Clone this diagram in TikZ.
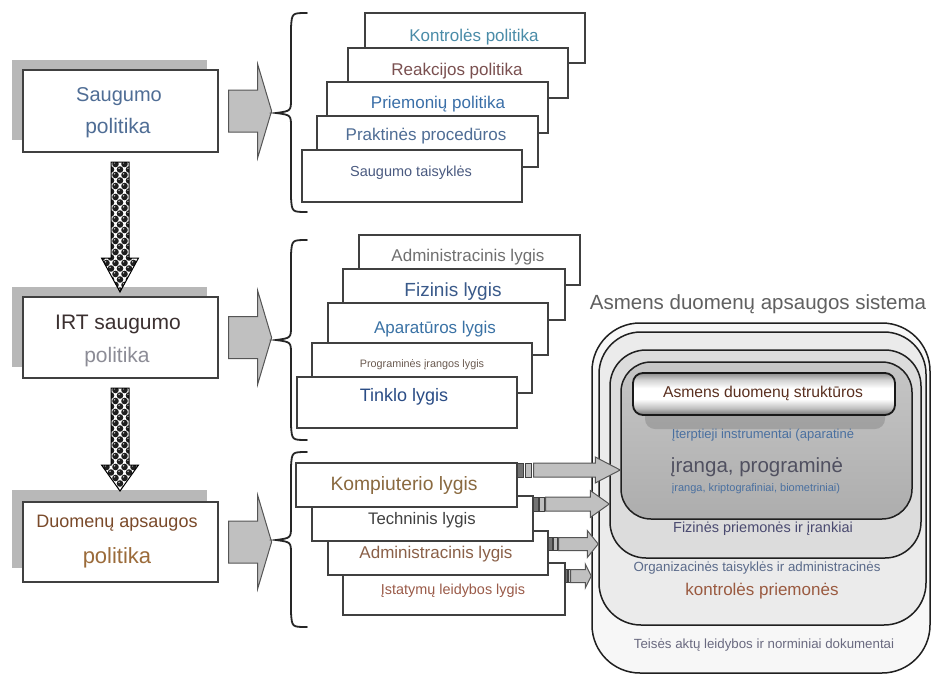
\documentclass[tikz,border=0pt]{standalone}
\usepackage{fontspec}
\setmainfont{Liberation Sans}
\usetikzlibrary{calc,fit}

\definecolor{cSteel}{HTML}{4F6D95}
\definecolor{cDark}{HTML}{3B3030}
\definecolor{cGrayT}{HTML}{8C8C96}
\definecolor{cBrown}{HTML}{7A4A2A}
\definecolor{cGold}{HTML}{9B6B3A}
\definecolor{cTeal}{HTML}{4A8CA8}
\definecolor{cMauve}{HTML}{7A5050}
\definecolor{cBlue}{HTML}{3A6FA8}
\definecolor{cSlate}{HTML}{4A5A80}
\definecolor{cGrayA}{HTML}{707070}
\definecolor{cNavy}{HTML}{3A5A8A}
\definecolor{cBlue2}{HTML}{3A72A5}
\definecolor{cProg}{HTML}{6A5A50}
\definecolor{cDeep}{HTML}{2A4C85}
\definecolor{cKomp}{HTML}{8A6A40}
\definecolor{cTech}{HTML}{404040}
\definecolor{cAdm}{HTML}{8A6048}
\definecolor{cIst}{HTML}{9A5A48}
\definecolor{cTitle}{HTML}{606060}
\definecolor{cStruct}{HTML}{5A3020}
\definecolor{cSmallB}{HTML}{4A70A0}
\definecolor{cIranga}{HTML}{505060}
\definecolor{cFiz}{HTML}{4A4A70}
\definecolor{cOrg}{HTML}{5A6A8A}
\definecolor{cKontr}{HTML}{9A5A40}
\definecolor{cTeis}{HTML}{6A6A80}
\definecolor{fillA}{HTML}{F7F7F7}
\definecolor{fillB}{HTML}{EBEBEB}
\definecolor{fillC}{HTML}{DCDCDC}
\definecolor{fillDt}{HTML}{C6C6C6}
\definecolor{fillDb}{HTML}{ADADAD}
\definecolor{arrowfill}{HTML}{C0C0C0}
\definecolor{arrowline}{HTML}{555555}

\pgfdeclareverticalshading{pillshade}{100bp}{%
  color(0bp)=(black!55); color(25bp)=(black!55); color(33bp)=(black!25);
  color(44bp)=(white); color(57bp)=(white); color(67bp)=(black!18);
  color(75bp)=(black!45); color(100bp)=(black!45)}

\newcommand{\fsz}[1]{\fontsize{#1}{#1}\selectfont}

% big gray block arrow pointing to a brace
\newcommand{\bigarrow}[2]{%
  \coordinate (#2) at ($(#1.east)+(10,0)$);
  \draw[draw=arrowline, fill=arrowfill, line width=1pt, line join=miter]
    (#2) ++(0,-21) -- ++(29,0) -- ++(0,-26) -- ++(14,47) -- ++(-14,47)
    -- ++(0,-26) -- ++(-29,0) -- cycle;
}

% curly brace: #1 top y, #2 bottom y, #3 middle y
\newcommand{\curlybrace}[3]{%
  \draw[line width=1.8pt, black!85, line cap=round]
    (307,#1) .. controls (292,#1) .. (291,#1+14) -- (291,#3-14)
    .. controls (291,#3-2) .. (276,#3)
    .. controls (291,#3+2) .. (291,#3+14) -- (291,#2-14)
    .. controls (292,#2) .. (307,#2);
}

% checkered down arrow: #1 top y, #2 tip y, #3 head length
\newcommand{\checkarrow}[3]{%
  \begin{scope}
    \clip (111,#1) -- (111,#2-#3) -- (101.5,#2-#3) -- (120,#2)
      -- (138.5,#2-#3) -- (129,#2-#3) -- (129,#1) -- cycle;
    \fill[white] (95,#1) rectangle (145,#2);
    \pgfmathtruncatemacro\nrows{(#2-#1)/5.5+1}
    \foreach \r in {0,...,\nrows}{%
      \pgfmathsetmacro\yy{#1+2+\r*5.5}
      \pgfmathsetmacro\xo{mod(\r,2)*4.5}
      \foreach \c in {-2,...,2}{%
        \fill[black!88] (115.5+\c*9-\xo,\yy) circle (3.3pt);
        \fill[white!80!black] (114.6+\c*9-\xo,\yy-1.2) circle (0.8pt);
      }
    }
  \end{scope}
  \draw[black, line width=1pt, line join=miter]
    (111,#1) -- (111,#2-#3) -- (101.5,#2-#3) -- (120,#2)
    -- (138.5,#2-#3) -- (129,#2-#3) -- (129,#1) -- cycle;
}

% striped arrow: #1 from node, #2 to node, #3 y, #4 stripe length,
% #5 head length, #6 body half height, #7 head half height
\newcommand{\stripearrow}[7]{%
  \coordinate (sa) at (#1.east |- 0,#3);
  \coordinate (ta) at (#2.west |- 0,#3);
  \draw[draw=black!75, fill=black!55, line width=0.8pt]
    ($(sa)+(0,-#6)$) rectangle ($(sa)+(0.38*#4,#6)$);
  \draw[draw=black!75, fill=black!25, line width=0.8pt]
    ($(sa)+(0.5*#4,-#6)$) rectangle ($(sa)+(0.88*#4,#6)$);
  \draw[draw=arrowline, fill=arrowfill, line width=1pt, line join=miter]
    ($(sa)+(#4,-#6)$) -- ($(ta)+(-#5,-#6)$) -- ($(ta)+(-#5,-#7)$) -- (ta)
    -- ($(ta)+(-#5,#7)$) -- ($(ta)+(-#5,#6)$) -- ($(sa)+(#4,#6)$) -- cycle;
}

\begin{document}
\begin{tikzpicture}[x=1pt,y=-1pt,
  boxline/.style={draw=black!75, line width=1.2pt},
  stackbox/.style={boxline, fill=white, inner sep=0pt},
  shadowbox/.style={fill=black!28, draw=none, inner sep=0pt},
  txt/.style={inner sep=0pt, font=\fsz{#1}},
  layer/.style={draw=black!88, line width=1.5pt, inner sep=0pt}
]
\useasboundingbox[fill=white] (0,0) rectangle (932,678);

% ---------- left main boxes ----------
\node[shadowbox, fit={(12,60) (207,140)}] (s1) {};
\node[stackbox, fit={(23,70) (218,152)}] (b1) {};
\node[txt=20, text=cSteel] (b1a) at (119,97) {Saugumo};
\node[txt=21, text=cSteel] (b1b) at (118,128) {politika};

\node[shadowbox, fit={(12,287) (207,367)}] (s2) {};
\node[stackbox, fit={(23,297) (218,378)}] (b2) {};
\node[txt=21, text=cDark] (b2a) at (118,324) {IRT saugumo};
\node[txt=21, text=cGrayT] (b2b) at (117,357) {politika};

\node[shadowbox, fit={(12,490) (207,568)}] (s3) {};
\node[stackbox, fit={(23,502) (218,582)}] (b3) {};
\node[txt=18, text=cBrown] (b3a) at (117,523) {Duomenų apsaugos};
\node[txt=22, text=cGold] (b3b) at (117,558) {politika};

% checkered arrows
\checkarrow{162}{292}{34}
\checkarrow{388}{491}{26}

% big arrows and braces
\bigarrow{b1}{ar1}
\bigarrow{b2}{ar2}
\bigarrow{b3}{ar3}
\curlybrace{13}{212}{113}
\curlybrace{240}{440}{340}
\curlybrace{452}{627}{540}

% ---------- group 1 ----------
\node[stackbox, fit={(365,13) (585,63)}] (g1a) {};
\node[txt=17, text=cTeal] (g1at) at (474,37) {Kontrolės politika};
\node[stackbox, fit={(348,48) (568,98)}] (g1b) {};
\node[txt=17, text=cMauve] (g1bt) at (457,71) {Reakcijos politika};
\node[stackbox, fit={(327,82) (548,133)}] (g1c) {};
\node[txt=17, text=cBlue] (g1ct) at (438,104) {Priemonių politika};
\node[stackbox, fit={(317,116) (538,167)}] (g1d) {};
\node[txt=17, text=cSteel] (g1dt) at (426,136) {Praktinės procedūros};
\node[stackbox, fit={(302,150) (522,202)}] (g1e) {};
\node[txt=14.5, text=cSlate] (g1et) at (411,173) {Saugumo taisyklės};

% ---------- group 2 ----------
\node[stackbox, fit={(359,235) (580,285)}] (g2a) {};
\node[txt=17, text=cGrayA] (g2at) at (468,257) {Administracinis lygis};
\node[stackbox, fit={(343,269) (565,320)}] (g2b) {};
\node[txt=19, text=cNavy] (g2bt) at (453,292) {Fizinis lygis};
\node[stackbox, fit={(328,303) (548,355)}] (g2c) {};
\node[txt=17, text=cBlue2] (g2ct) at (435,329) {Aparatūros lygis};
\node[stackbox, fit={(312,343) (532,393)}] (g2d) {};
\node[txt=10.8, text=cProg] (g2dt) at (422,365) {Programinės įrangos lygis};
\node[stackbox, fit={(297,377) (517,428)}] (g2e) {};
\node[txt=18, text=cDeep] (g2et) at (404,397) {Tinklo lygis};

% ---------- right nested system ----------
\node[txt=20.5, text=cTitle] (title) at (758,304) {Asmens duomenų apsaugos sistema};
\node[layer, fill=fillA, rounded corners=48pt, fit={(592,323) (930,673)}] (L1) {};
\node[layer, fill=fillB, rounded corners=42pt, fit={(599,332) (926,625)}] (L2) {};
\node[layer, fill=fillC, rounded corners=36pt, fit={(610,350) (921,558)}] (L3) {};
\node[layer, top color=fillDt, bottom color=fillDb, rounded corners=30pt, fit={(621,362) (912,519)}] (L4) {};
\fill[black!45, opacity=0.55, rounded corners=10pt] (645,398) rectangle (885,429);
\node[draw=black!90, line width=1.8pt, rounded corners=10pt, inner sep=0pt,
      shading=pillshade, fit={(633,373) (895,415)}] (pill) {};
\node[txt=15.7, text=cStruct] (pillt) at (763,393) {Asmens duomenų struktūros};
\node[txt=13, text=cSmallB] (l4a) at (763,435) {Įterptieji instrumentai (aparatinė};
\node[txt=20.5, text=cIranga] (l4b) at (757,467) {įranga, programinė};
\node[txt=11, text=cSmallB] (l4c) at (756,489) {įranga, kriptografiniai, biometriniai)};
\node[txt=14.5, text=cFiz] (l3t) at (763,529) {Fizinės priemonės ir įrankiai};
\node[txt=13.3, text=cOrg] (l2a) at (757,568) {Organizacinės taisyklės ir administracinės};
\node[txt=17, text=cKontr] (l2b) at (762,591) {kontrolės priemonės};
\node[txt=13.3, text=cTeis] (l1t) at (764,645) {Teisės aktų leidybos ir norminiai dokumentai};

% ---------- group 3 ----------
\node[stackbox, fit={(343,563) (565,615)}] (g3d) {};
\node[txt=14.4, text=cIst] (g3dt) at (453,591) {Įstatymų leidybos lygis};
\node[stackbox, fit={(328,531) (548,575)}] (g3c) {};
\node[txt=17, text=cAdm] (g3ct) at (436,554) {Administracinis lygis};
\node[stackbox, fit={(312,496) (533,541)}] (g3b) {};
\node[txt=16.7, text=cTech] (g3bt) at (422,520) {Techninis lygis};
\node[stackbox, fit={(296,463) (517,507)}] (g3a) {};
\node[txt=19.3, text=cKomp] (g3at) at (404,486) {Kompiuterio lygis};

% striped arrows into the layers
\stripearrow{g3a}{L4}{470}{16}{25}{7}{13}
\stripearrow{g3b}{L3}{504}{12}{19}{7}{13.5}
\stripearrow{g3c}{L2}{544}{10}{11}{6.5}{13.5}
\stripearrow{g3d}{L1}{576}{5}{6}{6.5}{12}
\end{tikzpicture}
\end{document}
